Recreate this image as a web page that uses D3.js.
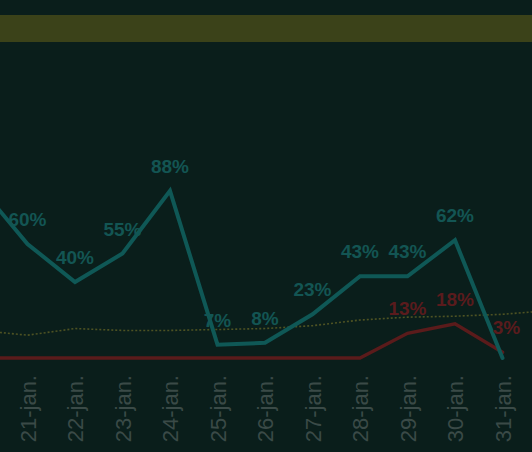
<!DOCTYPE html>
<html>
<head>
<meta charset="utf-8">
<script src="https://cdn.jsdelivr.net/npm/d3@7"></script>
<style>
  html, body { margin: 0; padding: 0; background: #0a1e1b; overflow: hidden; }
  svg { display: block; }
</style>
</head>
<body>
<svg id="chart" width="532" height="452"></svg>
<script>
// Categories (the chart is a cropped view: 20-jan. and 1-feb. lie just outside the frame)
const categories = ["20-jan.", "21-jan.", "22-jan.", "23-jan.", "24-jan.", "25-jan.", "26-jan.",
                    "27-jan.", "28-jan.", "29-jan.", "30-jan.", "31-jan.", "1-feb."];
// Tick labels visible inside the frame
const tickLabels = ["21-jan.", "22-jan.", "23-jan.", "24-jan.", "25-jan.", "26-jan.",
                    "27-jan.", "28-jan.", "29-jan.", "30-jan.", "31-jan."];
// Series values (percent)
const tealValues = [90, 60, 40, 55, 88, 7, 8, 23, 43, 43, 62, 0, null];
const redValues  = [0, 0, 0, 0, 0, 0, 0, 0, 0, 13, 18, 3, null];
const trendValues = [14.5, 12, 15.5, 14.5, 14.5, 15, 15.5, 17, 20, 21.5, 22, 23, 25];

const W = 532, H = 452;
const svg = d3.select("#chart");

svg.append("rect").attr("x", 0).attr("y", 0).attr("width", W).attr("height", H).attr("fill", "#0a1e1b");

// top band
svg.append("rect").attr("x", 0).attr("y", 15).attr("width", W).attr("height", 27).attr("fill", "#3b4219");

const x = d3.scalePoint().domain(categories).range([-20, 550]);
const y = d3.scaleLinear().domain([0, 100]).range([358, 168]);

const g = svg.append("g");

const mk = vals => categories.map((c, i) => ({c, v: vals[i]}));

const line = d3.line()
  .defined(d => d.v !== null)
  .x(d => x(d.c))
  .y(d => y(d.v));

// dotted trend
g.append("path").datum(mk(trendValues))
  .attr("d", line)
  .attr("fill", "none")
  .attr("stroke", "#4d5223")
  .attr("stroke-width", 1.6)
  .attr("stroke-dasharray", "2,2");

// red series
g.append("path").datum(mk(redValues))
  .attr("d", line)
  .attr("fill", "none")
  .attr("stroke", "#5a1b1b")
  .attr("stroke-width", 3.5)
  .attr("stroke-linejoin", "miter")
  .attr("stroke-linecap", "round");

// teal series
g.append("path").datum(mk(tealValues))
  .attr("d", line)
  .attr("fill", "none")
  .attr("stroke", "#0f5856")
  .attr("stroke-width", 4)
  .attr("stroke-linejoin", "miter")
  .attr("stroke-linecap", "round");

// labels
function labels(vals, color, dx) {
  g.selectAll(null).data(mk(vals).filter(d => d.v !== null && d.v > 0))
    .enter().append("text")
    .attr("x", d => x(d.c) + (d.c === "31-jan." ? dx : 0))
    .attr("y", d => y(d.v) - 18)
    .attr("text-anchor", "middle")
    .attr("font-family", "'Liberation Sans', Arial, sans-serif")
    .attr("font-weight", "bold")
    .attr("font-size", 19)
    .attr("fill", color)
    .text(d => d.v + "%");
}
labels(tealValues, "#13554f".replace("4f", "53"), 0);
labels(redValues, "#5a1b1d", 4);

// x axis labels
const xAxis = d3.axisBottom(x).tickValues(tickLabels).tickSize(0).tickPadding(0);
const ax = svg.append("g").attr("transform", "translate(0,375)").call(xAxis);
ax.select(".domain").remove();
ax.selectAll("text")
  .attr("transform", "rotate(-90)")
  .attr("x", 0)
  .attr("y", 0)
  .attr("dy", "0.35em")
  .attr("text-anchor", "end")
  .attr("font-family", "'Liberation Sans', Arial, sans-serif")
  .attr("font-size", 22)
  .attr("fill", "#3a4a47");
</script>
</body>
</html>
